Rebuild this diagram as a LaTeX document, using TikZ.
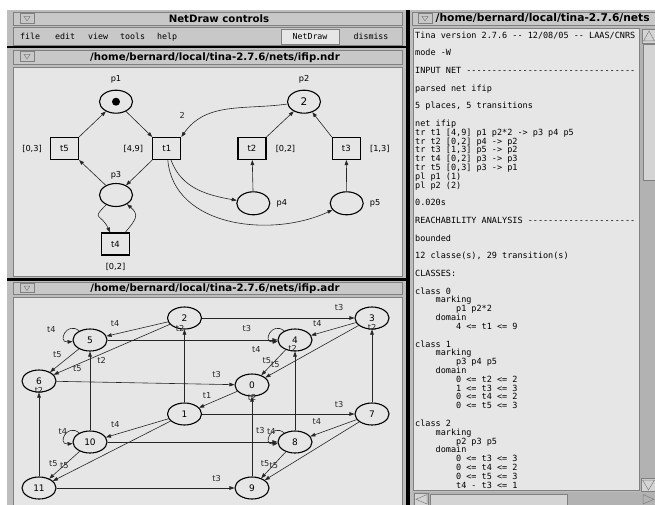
\documentclass[tikz,border=0pt]{standalone}
\usepackage{fontspec}
\setsansfont{DejaVu Sans}
\setmonofont{DejaVu Sans Mono}
\usetikzlibrary{positioning,arrows.meta,shapes.geometric}

\definecolor{framegray}{HTML}{BDBDBD}
\definecolor{bargray}{HTML}{C8C8C8}
\definecolor{panelgray}{HTML}{E6E6E6}
\definecolor{troughgray}{HTML}{B2B2B2}
\definecolor{thumbgray}{HTML}{D4D4D4}
\definecolor{rimgray}{HTML}{808080}

\newcommand{\logind}{\hphantom{0000}}

\begin{document}
\begin{tikzpicture}[x=1pt,y=-1pt,font=\sffamily,>={Triangle[length=5pt,width=3.6pt]},
  place/.style={draw,line width=1.1pt,ellipse,minimum width=33pt,minimum height=23pt,inner sep=0pt,font=\sffamily\fontsize{10.5}{11}\selectfont},
  trans/.style={draw,line width=1.1pt,minimum width=28pt,minimum height=22pt,inner sep=0pt,font=\sffamily\fontsize{8.5}{9}\selectfont},
  state/.style={draw,line width=1.1pt,ellipse,minimum width=34pt,minimum height=22pt,inner sep=0pt,font=\sffamily\fontsize{9}{9}\selectfont},
  lbl/.style={font=\sffamily\fontsize{8.2}{9}\selectfont,inner sep=0pt},
  arc/.style={->,line width=.6pt,black!85},
  bar/.style={fill=bargray,draw=rimgray,line width=.4pt},
  btn/.style={fill=bargray,draw=rimgray,line width=.5pt},
  wtitle/.style={font=\sffamily\bfseries\fontsize{10.2}{11}\selectfont,inner sep=0pt},
  menu/.style={font=\ttfamily\fontsize{8.3}{9}\selectfont,inner sep=0pt,anchor=base west},
  logline/.style={font=\ttfamily\fontsize{8.5}{9}\selectfont,inner sep=0pt,anchor=base west}]

\useasboundingbox (0,0) rectangle (655,505);
\clip (0,0) rectangle (655,505);
\fill[white] (0,0) rectangle (655,505);

% left column: controls and the two net windows
\fill[framegray] (7,10) rectangle (407,505);
\draw[bar] (13,12) rectangle (402,25);
\draw[bar] (13,27) rectangle (402,45);
\draw[bar] (13,50) rectangle (402,64);
\draw[bar] (13,282) rectangle (402,294);
\filldraw[fill=panelgray,draw=rimgray] (13,67) rectangle (402,276);
\filldraw[fill=panelgray,draw=rimgray] (13,297) rectangle (402,506);
\fill[black] (7,46) rectangle (407,48.5);
\fill[black] (7,278) rectangle (407,280.5);
\foreach \by in {13.5,51.5,283} {
  \draw[btn] (20,\by) rectangle (34,\by+9.5);
  \draw[rimgray,line width=.5pt] (24,\by+3) -- (30,\by+3) -- (27,\by+7.5) -- cycle;
}
\node[wtitle] (tctl) at (219,18.5) {NetDraw controls};
\node[wtitle] (tndr) at (215,57.5) {/home/bernard/local/tina-2.7.6/nets/ifip.ndr};
\node[wtitle] (tadr) at (215,288.5) {/home/bernard/local/tina-2.7.6/nets/ifip.adr};

\node[menu] (mfile) at (20,39.5) {file};
\node[menu] (medit) at (55,39.5) {edit};
\node[menu] (mview) at (88,39.5) {view};
\node[menu] (mtools) at (120,39.5) {tools};
\node[menu] (mhelp) at (157,39.5) {help};
\filldraw[fill=panelgray,draw=rimgray] (281,29) rectangle (339,44);
\node[menu,anchor=base] (mnet) at (310,39.5) {NetDraw};
\node[menu,anchor=base] (mdis) at (371,39.5) {dismiss};

% right window: tina output
\fill[black] (406,10) rectangle (409.5,505);
\fill[framegray] (409.5,10) rectangle (655,505);
\draw[bar] (412,12) rectangle (656,25);
\draw[btn] (418,13.5) rectangle (432,23);
\draw[rimgray,line width=.5pt] (422,16.5) -- (428,16.5) -- (425,21) -- cycle;
\node[wtitle,font=\sffamily\bfseries\fontsize{10.7}{12}\selectfont,anchor=west] (tlog) at (435.5,18) {/home/bernard/local/tina-2.7.6/nets};
\filldraw[fill=panelgray,draw=rimgray] (413,28) rectangle (639,490);
\fill[troughgray] (640,28) rectangle (656,491);
\draw[btn,fill=thumbgray] (642,29) rectangle (656,43);
\draw[rimgray,line width=.5pt] (643.5,41) -- (649,31) -- (654.5,41) -- cycle;
\draw[btn,fill=thumbgray] (643,44) rectangle (656,180);
\draw[btn,fill=thumbgray] (641,478) rectangle (656,491);
\draw[rimgray,line width=.5pt] (642.5,480) -- (654.5,480) -- (648.5,490) -- cycle;
\fill[troughgray] (413,492) rectangle (656,506);
\draw[btn,fill=thumbgray] (414,493) rectangle (428.5,506);
\draw[rimgray,line width=.5pt] (427,494.5) -- (427,504) -- (416,499.3) -- cycle;
\draw[btn,fill=thumbgray] (430,494) rectangle (567,506);
\draw[rimgray,line width=.5pt] (643,494.5) -- (643,504) -- (654,499.3) -- cycle;

\foreach \n/\txt in {
  0/{Tina version 2.7.6 -- 12/08/05 -- LAAS/CNRS},
  2/{mode -W},
  4/{INPUT NET ---------------------------------},
  6/{parsed net ifip},
  8/{5 places, 5 transitions},
  10/{net ifip},
  11/{tr t1 [4,9] p1 p2*2 -> p3 p4 p5},
  12/{tr t2 [0,2] p4 -> p2},
  13/{tr t3 [1,3] p5 -> p2},
  14/{tr t4 [0,2] p3 -> p3},
  15/{tr t5 [0,3] p3 -> p1},
  16/{pl p1 (1)},
  17/{pl p2 (2)},
  19/{0.020s},
  21/{REACHABILITY ANALYSIS ---------------------},
  23/{bounded},
  25/{12 classe(s), 29 transition(s)},
  27/{CLASSES:},
  29/{class 0},
  30/{\logind marking},
  31/{\logind\logind p1 p2*2},
  32/{\logind domain},
  33/{\logind\logind 4 <= t1 <= 9},
  35/{class 1},
  36/{\logind marking},
  37/{\logind\logind p3 p4 p5},
  38/{\logind domain},
  39/{\logind\logind 0 <= t2 <= 2},
  40/{\logind\logind 1 <= t3 <= 3},
  41/{\logind\logind 0 <= t4 <= 2},
  42/{\logind\logind 0 <= t5 <= 3},
  44/{class 2},
  45/{\logind marking},
  46/{\logind\logind p2 p3 p5},
  47/{\logind domain},
  48/{\logind\logind 0 <= t3 <= 3},
  49/{\logind\logind 0 <= t4 <= 2},
  50/{\logind\logind 0 <= t5 <= 3},
  51/{\logind\logind t4 - t3 <= 1}}
  \node[logline] (log\n) at (415,38.3+8.82*\n) {\txt};

% the net ifip.ndr
\node[place] (p1) at (116,101.7) {};
\fill (p1.center) circle (4);
\node[place] (p2) at (304,101.7) {2};
\node[place] (p3) at (116,195) {};
\node[place] (p4) at (253.3,203.3) {};
\node[place] (p5) at (346.7,203.3) {};
\node[trans] (t5) at (64.5,148.5) {t5};
\node[trans] (t1) at (166.8,148.5) {t1};
\node[trans] (t2) at (252,148.5) {t2};
\node[trans] (t3) at (346.3,148.5) {t3};
\node[trans] (t4) at (115.5,244) {t4};
\node[lbl,above=6pt of p1] (np1) {p1};
\node[lbl,above=6pt of p2] (np2) {p2};
\node[lbl,above=4pt of p3] (np3) {p3};
\node[lbl,right=6pt of p4] (np4) {p4};
\node[lbl,right=6pt of p5] (np5) {p5};
\node[lbl,left=8pt of t5] (it5) {[0,3]};
\node[lbl,left=9pt of t1] (it1) {[4,9]};
\node[lbl,right=9pt of t2] (it2) {[0,2]};
\node[lbl,right=9pt of t3] (it3) {[1,3]};
\node[lbl,below=8pt of t4] (it4) {[0,2]};

\draw[arc] (p1) -- (t1.north west);
\draw[arc] (t5.north east) -- (p1);
\draw[arc] (p2) to[out=188,in=55] node[lbl,pos=1,xshift=1pt,yshift=21pt] {2} (t1.north east);
\draw[arc] (t2.north east) -- (p2);
\draw[arc] (t3.north west) -- (p2);
\draw[arc] (p4) -- (t2);
\draw[arc] (p5) -- (t3);
\draw[arc] (t1.south west) -- (p3);
\draw[arc] (p3) -- (t5.south east);
\draw[arc] (t1) to[out=-70,in=170] (p4);
\draw[arc] (t1) to[out=-85,in=205] (p5);
\draw[arc] (p3) to[out=225,in=115,looseness=2] (t4);
\draw[arc] (t4) to[out=50,in=-40,looseness=1.5] (p3);

% the state classes graph ifip.adr
\node[state] (c2) at (184.5,318) {2};
\node[state] (c3) at (372,318) {3};
\node[state] (c5) at (90,340) {5};
\node[state] (c4) at (295,340) {4};
\node[state] (c6) at (39,381) {6};
\node[state] (c0) at (252,385) {0};
\node[state] (c1) at (184.5,414) {1};
\node[state] (c7) at (372,414) {7};
\node[state] (c10) at (90,442) {10};
\node[state] (c8) at (295,442) {8};
\node[state] (c11) at (39,488) {11};
\node[state] (c9) at (252,488) {9};

\draw[arc] (c0) -- node[lbl,pos=.71,xshift=-3.2pt,yshift=7.4pt] {t1} (c1);
\draw[arc] (c1) -- node[lbl,pos=1,xshift=-4.5pt,yshift=.7pt] {t2} (c2);
\draw[arc] (c1) -- node[lbl,pos=.9,yshift=9.7pt] {t3} (c7);
\draw[arc] (c1) -- node[lbl,pos=.81,xshift=-2.6pt,yshift=8.8pt] {t4} (c10);
\draw[arc] (c1) -- node[lbl,pos=.87,xshift=-3.8pt,yshift=7.6pt] {t5} (c11);
\draw[arc] (c2) -- node[lbl,pos=.9,yshift=10pt] {t3} (c3);
\draw[arc] (c2) -- node[lbl,pos=.82,xshift=-2.4pt,yshift=10.3pt] {t4} (c5);
\draw[arc] (c2) -- node[lbl,pos=.81,xshift=1.7pt,yshift=-3.9pt] {t5} (c6);
\draw[arc] (c3) -- node[lbl,pos=.8,xshift=-2.8pt,yshift=9.7pt] {t4} (c4);
\draw[arc] (c3) -- node[lbl,pos=.86,xshift=-3.1pt,yshift=5.4pt] {t5} (c0);
\draw[arc] (c4) to[out=140,in=185,looseness=1,min distance=16pt] node[lbl,pos=.5,xshift=-14pt,yshift=-17pt] {t4} (c4);
\draw[arc] (c4) -- node[lbl,pos=.6,xshift=-4.3pt,yshift=4.1pt] {t5} (c0);
\draw[arc] (c5) to[out=140,in=185,looseness=1,min distance=16pt] node[lbl,pos=.5,xshift=-14pt,yshift=3.7pt] {t4} (c5);
\draw[arc] (c5) -- node[lbl,pos=.82,yshift=11.7pt] {t3} (c4);
\draw[arc] (c5) -- node[lbl,pos=.56,xshift=-5.5pt,yshift=6.9pt] {t5} (c6);
\draw[arc] (c6) -- node[lbl,pos=.9,yshift=9.4pt] {t3} (c0);
\draw[arc] (c7) -- node[lbl,pos=1,yshift=1.7pt] {t2} (c3);
\draw[arc] (c7) -- node[lbl,pos=.77,xshift=-4.1pt,yshift=10.9pt] {t4} (c8);
\draw[arc] (c7) -- node[lbl,pos=.86,xshift=-4.1pt,yshift=6.6pt] {t5} (c9);
\draw[arc] (c8) -- node[lbl,pos=1,xshift=-2.3pt,yshift=2.7pt] {t2} (c4);
\draw[arc] (c8) to[out=140,in=185,looseness=1,min distance=16pt] node[lbl,pos=.5,xshift=1pt,yshift=3.3pt] {t4} (c8);
\draw[arc] (c8) -- node[lbl,pos=.62,xshift=-5.5pt,yshift=5pt] {t5} (c9);
\draw[arc] (c9) -- node[lbl,pos=1,yshift=-.7pt] {t2} (c0);
\draw[arc] (c10) -- node[lbl,pos=.89,xshift=11.7pt] {t2} (c5);
\draw[arc] (c10) -- node[lbl,pos=.9,yshift=11.3pt] {t3} (c8);
\draw[arc] (c10) to[out=140,in=185,looseness=1,min distance=16pt] node[lbl,pos=.5,xshift=-2.5pt,yshift=3.3pt] {t4} (c10);
\draw[arc] (c10) -- node[lbl,pos=.67,xshift=-5.9pt,yshift=6.5pt] {t5} (c11);
\draw[arc] (c11) -- node[lbl,pos=1,yshift=2pt] {t2} (c6);
\draw[arc] (c11) -- node[lbl,pos=.9,yshift=9.7pt] {t3} (c9);
\end{tikzpicture}
\end{document}
